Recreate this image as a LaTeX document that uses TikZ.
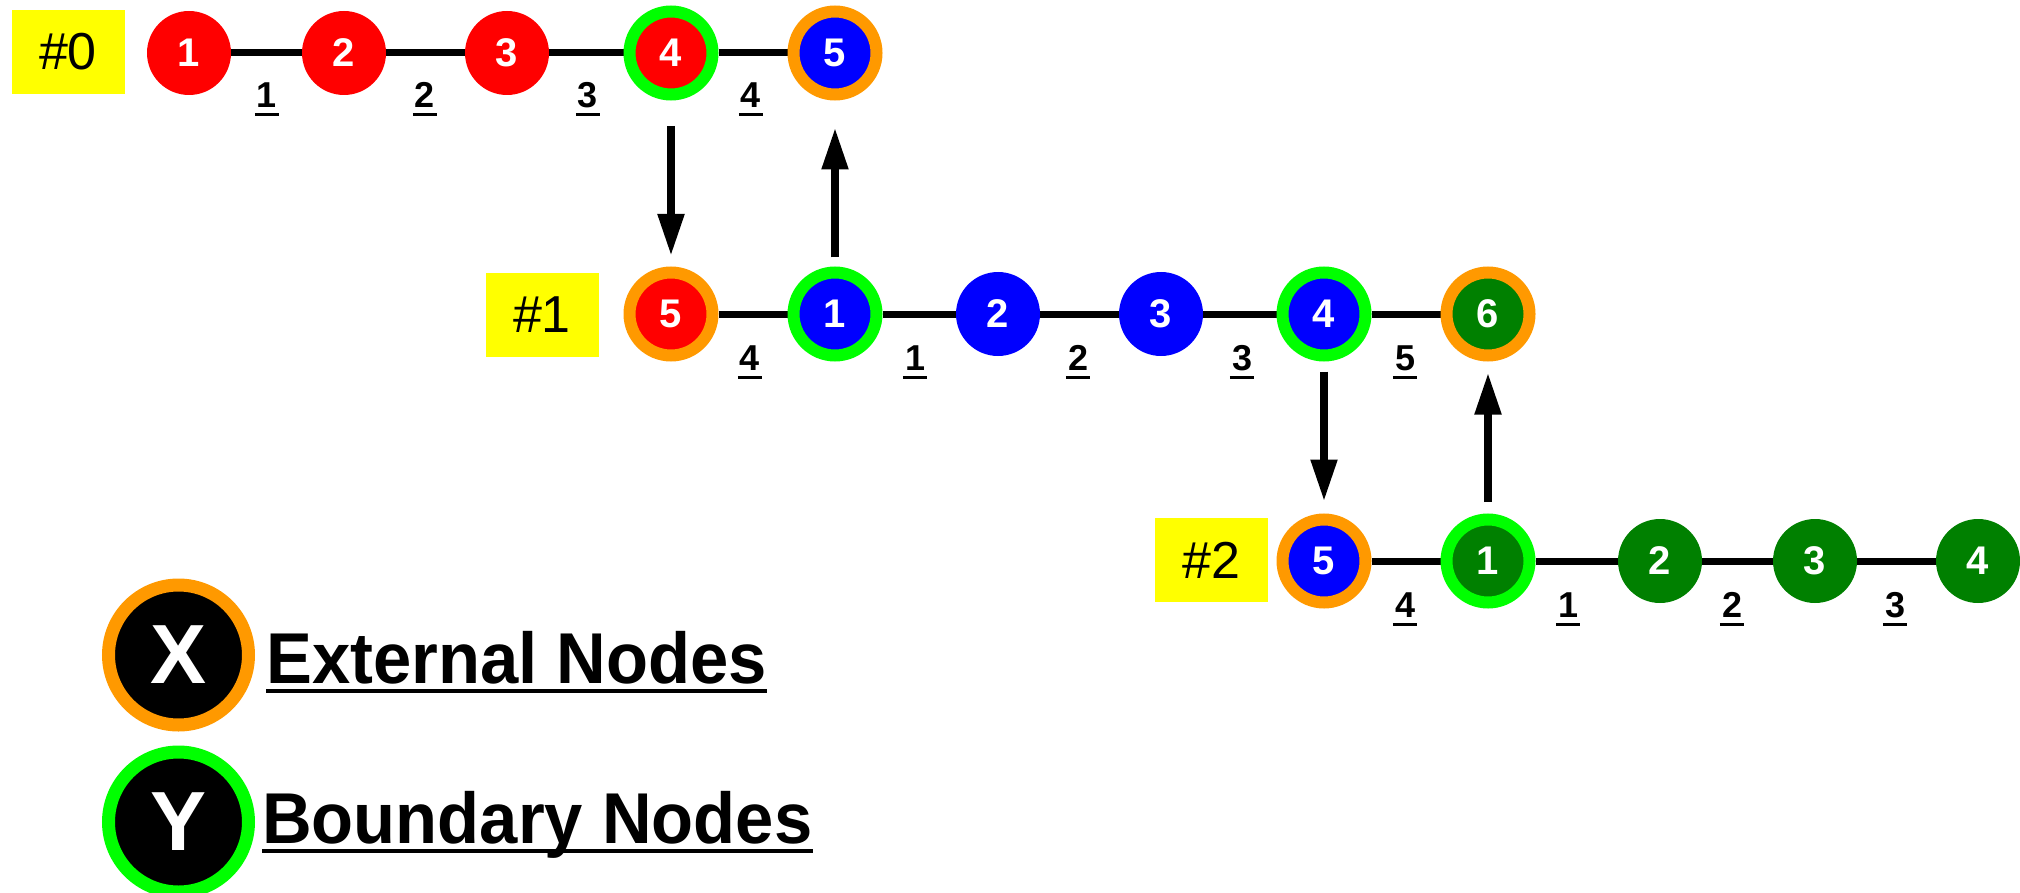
\documentclass[tikz,border=0pt]{standalone}
\usepackage{fontspec}
\setmainfont{Liberation Sans}
\newfontfamily\legfont{Liberation Sans}[FakeStretch=0.955]
\usetikzlibrary{arrows.meta,backgrounds}
\definecolor{cred}{HTML}{FF0000}
\definecolor{cblue}{HTML}{0000FF}
\definecolor{cgreen}{HTML}{008000}
\definecolor{clime}{HTML}{00FF00}
\definecolor{corange}{HTML}{FF9900}
\definecolor{cyellow}{HTML}{FFFF00}
\tikzset{
  pn/.style={circle, minimum size=84pt, inner sep=0pt, fill=#1, text=white,
    font=\bfseries\fontsize{40}{40}\selectfont},
  rn/.style 2 args={circle, minimum size=83pt, inner sep=0pt, fill=#1, draw=#2,
    line width=12pt, text=white, font=\bfseries\fontsize{40}{40}\selectfont},
  elab/.style={anchor=base, inner xsep=2pt, inner ysep=0pt,
    font=\bfseries\fontsize{36}{36}\selectfont,
    append after command={([yshift=-7pt]\tikzlastnode.base west)
      edge[draw=black, line width=3pt] ([yshift=-7pt]\tikzlastnode.base east)}},
  ybox/.style={fill=cyellow, minimum width=113pt, minimum height=84pt, inner sep=0pt,
    font=\fontsize{52}{52}\selectfont},
  conn/.style={draw=black, line width=7pt},
  arr/.style={draw=black, line width=8pt, -{Triangle[length=42pt,width=25pt]}},
  lg/.style={circle, minimum size=140pt, inner sep=0pt, fill=black, draw=#1,
    line width=13pt, text=white, font=\bfseries\fontsize{84}{84}\selectfont},
  legtxt/.style={anchor=base west, inner xsep=0pt, inner ysep=0pt,
    font=\legfont\bfseries\fontsize{72}{72}\selectfont,
    append after command={([yshift=-8pt]\tikzlastnode.base west)
      edge[draw=black, line width=3.3pt] ([yshift=-8pt]\tikzlastnode.base east)}},
}
\begin{document}
\begin{tikzpicture}[x=1pt, y=-1pt]
\useasboundingbox (0,0) rectangle (2020,893);

% ---------- row #0 ----------
\node[ybox] (p0) at (68,52) {\#0};
\node[pn=cred] (a1) at (189,53) {1};
\node[pn=cred] (a2) at (344,53) {2};
\node[pn=cred] (a3) at (507,53) {3};
\node[rn={cred}{clime}] (a4) at (671,53) {4};
\node[rn={cblue}{corange}] (a5) at (835,53) {5};
\node[elab] (la1) at (267,108) {1};
\node[elab] (la2) at (425,108) {2};
\node[elab] (la3) at (588,108) {3};
\node[elab] (la4) at (751,108) {4};

% ---------- row #1 ----------
\node[ybox] (p1) at (542,315) {\#1};
\node[rn={cred}{corange}] (b5) at (671,314) {5};
\node[rn={cblue}{clime}] (b1) at (835,314) {1};
\node[pn=cblue] (b2) at (998,314) {2};
\node[pn=cblue] (b3) at (1161,314) {3};
\node[rn={cblue}{clime}] (b4) at (1324,314) {4};
\node[rn={cgreen}{corange}] (b6) at (1488,314) {6};
\node[elab] (lb4) at (750,370) {4};
\node[elab] (lb1) at (915,370) {1};
\node[elab] (lb2) at (1078,370) {2};
\node[elab] (lb3) at (1242,370) {3};
\node[elab] (lb5) at (1405,370) {5};

% ---------- row #2 ----------
\node[ybox] (p2) at (1211,560) {\#2};
\node[rn={cblue}{corange}] (c5) at (1324,561) {5};
\node[rn={cgreen}{clime}] (c1) at (1488,561) {1};
\node[pn=cgreen] (c2) at (1660,561) {2};
\node[pn=cgreen] (c3) at (1815,561) {3};
\node[pn=cgreen] (c4) at (1978,561) {4};
\node[elab] (lc4) at (1405,617) {4};
\node[elab] (lc1) at (1568,617) {1};
\node[elab] (lc2) at (1732,617) {2};
\node[elab] (lc3) at (1895,617) {3};

% ---------- connectors ----------
\begin{pgfonlayer}{background}
\draw[conn] (a1) -- (a2) -- (a3) -- (a4) -- (a5);
\draw[conn] (b5) -- (b1) -- (b2) -- (b3) -- (b4) -- (b6);
\draw[conn] (c5) -- (c1) -- (c2) -- (c3) -- (c4);
\end{pgfonlayer}

% ---------- arrows ----------
\draw[arr, shorten <=25.5pt, shorten >=10.5pt] (a4) -- (b5);
\draw[arr, shorten <=9pt, shorten >=27pt] (b1) -- (a5);
\draw[arr, shorten <=10pt, shorten >=12pt] (b4) -- (c5);
\draw[arr, shorten <=11.5pt, shorten >=11pt] (c1) -- (b6);

% ---------- legend ----------
\node[lg=corange] (kx) at (178.5,655) {X};
\node[lg=clime] (ky) at (178.5,822) {Y};
\node[legtxt] (tx) at (266,683) {External Nodes};
\node[legtxt] (ty) at (262,843) {Boundary Nodes};
\end{tikzpicture}
\end{document}
